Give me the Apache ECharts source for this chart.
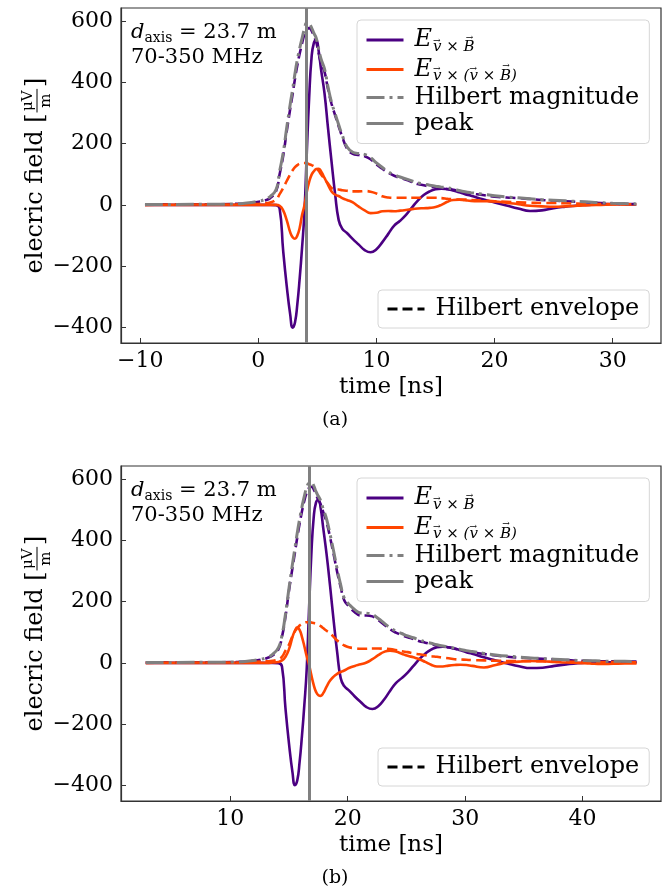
<!DOCTYPE html>
<html>
<head>
<meta charset="utf-8">
<script src="https://cdn.jsdelivr.net/npm/echarts@6/dist/echarts.min.js"></script>
<style>
  html, body { margin: 0; padding: 0; background: #fff; }
  #main { width: 670px; height: 890px; }
</style>
</head>
<body>
<div id="main"></div>
<script>
// ---- data ----
// panel (a)
var timeA = [-9.6, -4, -2, -1, 0, 0.5, 1, 1.5, 1.8, 2.1, 2.4, 2.7, 2.9, 3.1, 3.3, 3.5, 3.7, 3.9, 4.1, 4.3,
  4.5, 4.7, 4.9, 5.1, 5.3, 5.6, 5.9, 6.2, 6.5, 6.8, 7.1, 7.5, 8, 8.5, 9, 9.5, 10, 10.5, 11, 11.5,
  12, 12.5, 13, 13.5, 14, 14.5, 15, 15.5, 16, 16.5, 17, 17.5, 18, 19, 20, 21, 22, 23, 24, 25,
  26, 27, 28, 29, 30, 31, 32];
var evbA = [0, 0, 0, 0, 0, 0, 0, -1, -12, -150, -265, -360, -402, -385, -325, -240, -140, -25, 170, 350,
  480, 530, 538, 505, 445, 365, 250, 140, 35, -50, -78, -92, -112, -130, -148, -155, -145, -122, -95, -68,
  -52, -33, -9, 14, 32, 44, 51, 53, 51, 47, 41, 35, 30, 18, 8, -2, -12, -20, -18, -11,
  -6, -2, 0, 2, 3, 2, 1];
var evvbA = [0, 0, 0, 0, 0, 0, 0, 0, -3, -18, -50, -90, -106, -111, -100, -75, -33, -2, 42, 75,
  98, 110, 117, 118, 110, 88, 65, 44, 33, 29, 22, 16, 8, -6, -18, -27, -26, -21, -20, -21,
  -19, -17, -14, -12, -11, -10, -7, 0, 10, 16, 17, 15, 13, 12, 11, 7, 2, -3, -5, -6,
  -5, -3, -1, 0, 1, 1, 1];
var envEvbA = [1, 2, 3, 5, 10, 14, 22, 45, 100, 160, 240, 315, 362, 412, 457, 495, 528, 558, 575, 578,
  570, 552, 532, 497, 465, 435, 378, 330, 293, 257, 223, 185, 167, 163, 159, 149, 132, 118, 105, 95,
  88, 82, 75, 68, 64, 60, 57, 54, 52, 49, 44, 40, 37, 32, 27, 24, 22, 19, 16, 14,
  12, 10, 8, 6, 4, 3, 3];
var envEvvbA = [0, 1, 1, 2, 3, 5, 8, 17, 35, 55, 78, 100, 113, 123, 130, 135, 137, 137, 136, 133,
  130, 126, 120, 112, 100, 85, 70, 55, 51, 50, 48, 46, 44, 44, 45, 43, 37, 28, 24, 23,
  23, 23, 23, 23, 23, 23, 23, 22, 20, 18, 17, 17, 16, 14, 12, 10, 8, 7, 6, 6,
  5, 4, 3, 3, 2, 2, 2];
var hilbertA = [1, 2, 3, 6, 12, 17, 27, 50, 110, 170, 252, 330, 378, 430, 475, 512, 545, 575, 595, 592,
  580, 562, 545, 510, 478, 445, 385, 335, 298, 262, 228, 190, 172, 168, 165, 155, 137, 122, 108, 98,
  91, 85, 78, 72, 68, 64, 61, 58, 56, 52, 47, 43, 40, 35, 30, 26, 23, 20, 17, 15,
  13, 11, 9, 7, 5, 4, 3];
var peakA = 4.08;

// panel (b)
var timeB = [2.8, 8.6, 10.6, 11.6, 12.6, 13.1, 13.6, 14.1, 14.4, 14.7, 15.0, 15.3, 15.5, 15.7, 15.9, 16.1, 16.3, 16.5, 16.7, 16.9,
  17.1, 17.3, 17.5, 17.7, 17.9, 18.2, 18.5, 18.8, 19.1, 19.4, 19.7, 20.1, 20.6, 21.1, 21.6, 22.1, 22.6, 23.1, 23.6, 24.1,
  24.6, 25.1, 25.6, 26.1, 26.6, 27.1, 27.6, 28.1, 28.6, 29.1, 29.6, 30.1, 30.6, 31.6, 32.6, 33.6, 34.6, 35.6, 36.6, 37.6,
  38.6, 39.6, 40.6, 41.6, 42.6, 43.6, 44.6];
var evbB = [0, 0, 0, 0, 0, 0, 0, -1, -12, -150, -265, -360, -400, -385, -325, -240, -140, -25, 170, 355,
  475, 525, 533, 505, 445, 355, 250, 138, 35, -50, -76, -90, -110, -128, -145, -151, -142, -120, -92, -66,
  -50, -32, -10, 12, 30, 43, 51, 53, 51, 47, 41, 35, 30, 18, 8, -2, -11, -17, -16, -10,
  -5, -1, 1, 2, 2, 1, 1];
var evvbB = [0, 0, 0, 0, 0, 0, 1, 3, 8, 20, 45, 85, 105, 116, 108, 85, 55, 22, -5, -40,
  -72, -95, -106, -108, -100, -78, -58, -45, -36, -30, -25, -17, -10, -5, 1, 12, 25, 36, 40, 37,
  30, 23, 18, 12, 3, -6, -12, -12, -9, -7, -6, -7, -10, -15, -7, 1, 4, 6, 5, 3,
  1, 0, -2, -4, -3, -2, -2];
var envEvbB = [1, 2, 3, 5, 10, 15, 24, 45, 85, 152, 237, 312, 360, 410, 455, 495, 530, 556, 572, 576,
  568, 550, 533, 518, 495, 460, 410, 355, 297, 248, 205, 185, 166, 155, 155, 152, 140, 125, 110, 99,
  91, 84, 78, 71, 66, 61, 56, 53, 50, 46, 42, 38, 35, 29, 24, 20, 17, 15, 13, 11,
  9, 7, 6, 5, 5, 4, 4];
var envEvvbB = [0, 1, 1, 2, 4, 5, 7, 12, 20, 40, 60, 88, 103, 113, 122, 128, 132, 133, 133, 132,
  130, 128, 125, 120, 114, 105, 97, 85, 73, 65, 57, 51, 48, 46, 46, 47, 47, 46, 45, 42,
  38, 35, 31, 28, 25, 22, 20, 17, 15, 12, 11, 10, 9, 8, 7, 6, 6, 5, 5, 4,
  4, 3, 3, 3, 3, 2, 2];
var hilbertB = [1, 2, 3, 6, 12, 17, 28, 50, 90, 160, 245, 325, 375, 425, 470, 510, 545, 573, 588, 590,
  580, 560, 545, 530, 505, 470, 420, 365, 307, 255, 212, 192, 174, 163, 162, 158, 145, 130, 115, 104,
  96, 88, 82, 75, 69, 64, 59, 55, 52, 48, 44, 40, 37, 31, 26, 22, 19, 16, 14, 12,
  10, 8, 7, 6, 5, 5, 4];
var peakB = 16.73;

var xTicksA = [-10, 0, 10, 20, 30];
var xTicksB = [10, 20, 30, 40];
var yTicks = [-400, -200, 0, 200, 400, 600];

// ---- styling ----
var FONT = '"DejaVu Serif", serif';
var PURPLE = '#4b0082', ORANGE = '#ff4500', GRAY = '#808080';
var LEG_FS = 24, SUB_FS = 15;

var panels = [
  { t: timeA, evb: evbA, evvb: evvbA, envB: envEvbA, envVB: envEvvbA, hil: hilbertA, peak: peakA,
    xmin: -11.63, xmax: 34.09, ticks: xTicksA, top: 8 },
  { t: timeB, evb: evbB, evvb: evvbB, envB: envEvbB, envVB: envEvvbB, hil: hilbertB, peak: peakB,
    xmin: 0.69, xmax: 46.68, ticks: xTicksB, top: 466 }
];

function pairs(t, v) {
  return t.map(function (x, i) { return [x, v[i]]; });
}
function minus(v) { return v < 0 ? '\u2212' + (-v) : String(v); }

var SUB1 = 'v \u00D7 B', SUB2 = 'v \u00D7 (v \u00D7 B)';
var legendNames = {
  'Evb': '{e|E}{s|' + SUB1 + '}',
  'Evvb': '{e|E}{s|' + SUB2 + '}',
  'Hilbert magnitude': '{n|Hilbert magnitude}',
  'peak': '{n|peak}',
  'Hilbert envelope': '{n|Hilbert envelope}'
};
var legendRich = {
  e: { fontFamily: FONT, fontStyle: 'italic', fontSize: LEG_FS, color: '#000', padding: [0, 0, 0, 6] },
  s: { fontFamily: FONT, fontStyle: 'italic', fontSize: SUB_FS, color: '#000', padding: [14, 0, 0, 1] },
  n: { fontFamily: FONT, fontSize: LEG_FS, color: '#000', padding: [0, 0, 0, 6] }
};

var grids = [], xAxes = [], yAxes = [], series = [], legends = [], graphics = [];

var ctx = document.createElement('canvas').getContext('2d');
function tw(s, size, style) { ctx.font = (style || '') + ' ' + size + 'px ' + FONT; return ctx.measureText(s).width; }

panels.forEach(function (p, i) {
  grids.push({ left: 121, top: p.top, width: 540, height: 335, show: true,
    borderColor: '#333', borderWidth: 1.2, backgroundColor: 'transparent' });
  xAxes.push({
    type: 'value', gridIndex: i, min: p.xmin, max: p.xmax,
    name: 'time [ns]', nameLocation: 'middle', nameGap: 33,
    nameTextStyle: { fontFamily: FONT, fontSize: 23, color: '#000' },
    axisLine: { show: true, onZero: false, lineStyle: { color: '#333', width: 1.2 } },
    axisTick: { show: true, inside: true, length: 5, customValues: p.ticks, lineStyle: { color: '#333' } },
    axisLabel: { customValues: p.ticks, fontFamily: FONT, fontSize: 22, color: '#000', margin: 7, formatter: minus },
    splitLine: { show: false }
  });
  yAxes.push({
    type: 'value', gridIndex: i, min: -452, max: 644,
    axisLine: { show: true, onZero: false, lineStyle: { color: '#333', width: 1.2 } },
    axisTick: { show: true, inside: true, length: 5, customValues: yTicks, lineStyle: { color: '#333' } },
    axisLabel: { customValues: yTicks, fontFamily: FONT, fontSize: 22, color: '#000', margin: 8, formatter: minus },
    splitLine: { show: false }
  });

  function line(name, vals, color, type, width) {
    series.push({
      name: name, type: 'line', xAxisIndex: i, yAxisIndex: i,
      data: pairs(p.t, vals), symbol: 'none', showSymbol: false, smooth: 0.5,
      lineStyle: { color: color, width: width, type: type }, itemStyle: { color: color },
      silent: true
    });
  }
  line('Evb', p.evb, PURPLE, 'solid', 2.6);
  line('Evvb', p.evvb, ORANGE, 'solid', 2.6);
  line('env Evb', p.envB, PURPLE, [10, 5], 2.6);
  line('env Evvb', p.envVB, ORANGE, [10, 5], 2.6);
  line('Hilbert magnitude', p.hil, GRAY, [18, 5, 3, 5], 3);
  series.push({
    name: 'peak', type: 'line', xAxisIndex: i, yAxisIndex: i, data: [], symbol: 'none',
    lineStyle: { color: GRAY, width: 3 }, itemStyle: { color: GRAY },
    markLine: { symbol: 'none', silent: true, label: { show: false },
      lineStyle: { color: GRAY, width: 3, type: 'solid' }, data: [{ xAxis: p.peak }] }
  });

  var legTop = p.top + 12, padT = 7, padL = 8;
  legends.push({
    orient: 'vertical', left: 357, top: legTop, selectedMode: false,
    data: [
      { name: 'Evb', textStyle: { lineHeight: 26 } },
      { name: 'Evvb', textStyle: { lineHeight: 30 } },
      { name: 'Hilbert magnitude', textStyle: { lineHeight: 26 } },
      { name: 'peak', textStyle: { lineHeight: 26 } }
    ],
    itemWidth: 37, itemHeight: 14, itemGap: 0,
    lineStyle: { width: 3 }, itemStyle: { opacity: 0, borderWidth: 0 },
    formatter: function (n) { return legendNames[n]; },
    textStyle: { fontFamily: FONT, fontSize: LEG_FS, color: '#000', lineHeight: 26, rich: legendRich },
    backgroundColor: 'rgba(255,255,255,0.8)', borderColor: '#d6d6d6', borderWidth: 1, borderRadius: 4,
    padding: [padT, 10, padT, padL]
  });
  legends.push({
    orient: 'vertical', left: 378, top: p.top + 282, selectedMode: false,
    data: ['Hilbert envelope'], itemWidth: 37, itemHeight: 14,
    lineStyle: { width: 3 }, itemStyle: { opacity: 0, borderWidth: 0 },
    formatter: function (n) { return legendNames[n]; },
    textStyle: { fontFamily: FONT, fontSize: LEG_FS, color: '#000', lineHeight: 26, rich: legendRich },
    backgroundColor: 'rgba(255,255,255,0.8)', borderColor: '#d6d6d6', borderWidth: 1, borderRadius: 4,
    padding: [6, 10, 6, 8]
  });

  // small vector arrows over v and B in the legend subscripts
  var textX = 357 + padL + 37 + 5 + 6;
  var wE = tw('E', LEG_FS, 'italic');
  var subX = textX + wE + 1;
  var c1 = legTop + padT + 13, c2 = c1 + 13 + 15;
  function arrow(x, y) {
    graphics.push({ type: 'text', x: x, y: y, silent: true, z: 100,
      style: { text: '\u2192', font: '9px ' + FONT, fill: '#000', align: 'center', verticalAlign: 'middle' } });
  }
  function arrowsFor(sub, cy) {
    for (var k = 0; k < sub.length; k++) {
      var ch = sub[k];
      if (ch === 'v' || ch === 'B') {
        var x = subX + tw(sub.slice(0, k), SUB_FS, 'italic') + tw(ch, SUB_FS, 'italic') / 2 + (ch === 'B' ? 2 : 1);
        arrow(x, cy + (ch === 'B' ? -3 : 0));
      }
    }
  }
  arrowsFor(SUB1, c1 + 1);
  arrowsFor(SUB2, c2 + 1);

  // annotation
  graphics.push({
    type: 'text', left: 131, top: p.top + 13, silent: true,
    style: {
      text: '{d|d}{a|axis}{n| = 23.7 m}\n{n|70-350 MHz}',
      rich: {
        d: { fontFamily: FONT, fontStyle: 'italic', fontSize: 21, color: '#000', lineHeight: 25 },
        a: { fontFamily: FONT, fontSize: 14, color: '#000', padding: [10, 0, 0, 0], lineHeight: 25 },
        n: { fontFamily: FONT, fontSize: 21, color: '#000', lineHeight: 25 }
      }
    }
  });

  // rotated y-axis label with fraction
  var s1 = 'elecric field [', w1 = tw(s1, 24), fw = Math.max(tw('\u03BCV', 15), tw('m', 15)) + 3;
  var W = w1 + fw + 4 + tw(']', 24);
  var x0 = -W / 2;
  graphics.push({
    type: 'group', x: 36, y: p.top + 167, rotation: Math.PI / 2, silent: true,
    children: [
      { type: 'text', x: x0, y: 0, style: { text: s1, font: '24px ' + FONT, fill: '#000', verticalAlign: 'middle' } },
      { type: 'text', x: x0 + w1 + 1 + fw / 2, y: -8, style: { text: '\u03BCV', font: '15px ' + FONT, fill: '#000', align: 'center', verticalAlign: 'middle' } },
      { type: 'line', shape: { x1: x0 + w1 + 1, y1: 1, x2: x0 + w1 + 1 + fw, y2: 1 }, style: { stroke: '#000', lineWidth: 1 } },
      { type: 'text', x: x0 + w1 + 1 + fw / 2, y: 10, style: { text: 'm', font: '15px ' + FONT, fill: '#000', align: 'center', verticalAlign: 'middle' } },
      { type: 'text', x: x0 + w1 + fw + 3, y: 0, style: { text: ']', font: '24px ' + FONT, fill: '#000', verticalAlign: 'middle' } }
    ]
  });

  graphics.push({
    type: 'text', left: 'center', top: p.top + 403, silent: true,
    style: { text: i === 0 ? '(a)' : '(b)', font: '19px ' + FONT, fill: '#000' }
  });
});

// legend sample for the dashed envelopes
series.push({
  name: 'Hilbert envelope', type: 'line', xAxisIndex: 0, yAxisIndex: 0, data: [], symbol: 'none',
  lineStyle: { color: '#000', width: 3, type: [10, 5] }, itemStyle: { color: '#000' }
});

var myChart = echarts.init(document.getElementById('main'), null, { renderer: 'canvas' });
myChart.setOption({
  animation: false,
  backgroundColor: '#fff',
  grid: grids,
  xAxis: xAxes,
  yAxis: yAxes,
  legend: legends,
  graphic: graphics,
  series: series
});
</script>
</body>
</html>
